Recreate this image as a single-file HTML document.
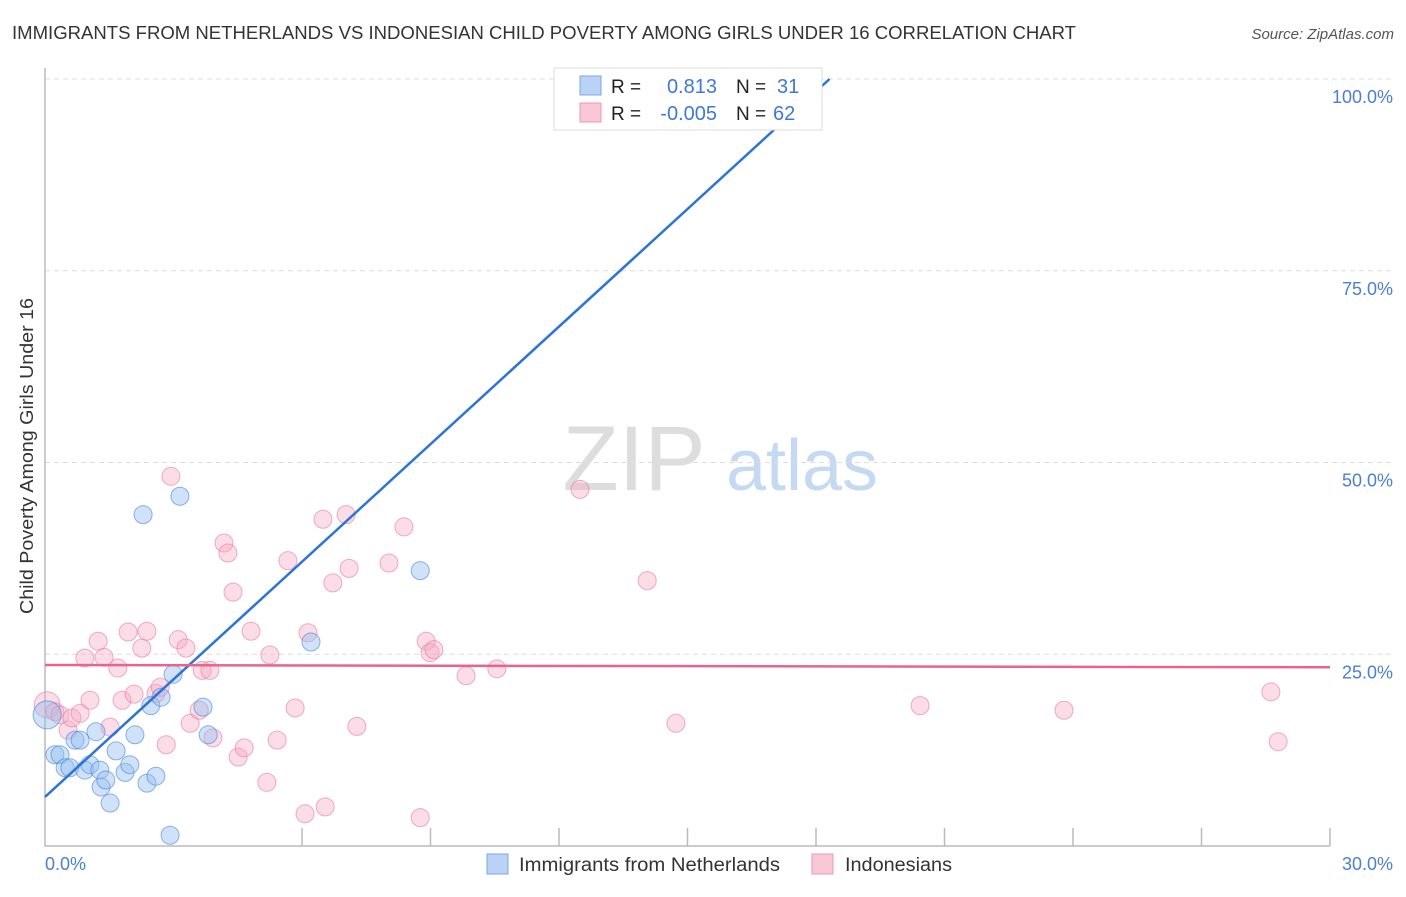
<!DOCTYPE html>
<html><head><meta charset="utf-8"><style>
body{margin:0;background:#fff;font-family:"Liberation Sans",sans-serif}
svg text{font-family:"Liberation Sans",sans-serif}
</style></head><body>
<svg id="c" width="1406" height="892" xmlns="http://www.w3.org/2000/svg">
<text x="12" y="39" font-size="18" fill="#333" textLength="1064" lengthAdjust="spacingAndGlyphs">IMMIGRANTS FROM NETHERLANDS VS INDONESIAN CHILD POVERTY AMONG GIRLS UNDER 16 CORRELATION CHART</text>
<text x="1394" y="39" font-size="15" fill="#555" font-style="italic" text-anchor="end">Source: ZipAtlas.com</text>
<text transform="translate(33,456) rotate(-90)" font-size="18" fill="#333" text-anchor="middle" textLength="316" lengthAdjust="spacingAndGlyphs">Child Poverty Among Girls Under 16</text>
<g>
<text x="634" y="490" font-size="92" fill="#ddd" font-family="Liberation Serif,serif" text-anchor="middle">ZIP</text>
<text x="802" y="490" font-size="72" fill="#c6d9f3" text-anchor="middle">atlas</text>
</g>
<g id="grid"></g><g id="pts"></g><g id="lines"></g>
<g>
<rect x="554" y="68" width="268" height="62" fill="#fff" stroke="#ddd"/>
<rect x="580" y="76" width="21" height="19" fill="#b9d2f5" stroke="#7ea7e3"/>
<rect x="580" y="103" width="21" height="19" fill="#f9c7d6" stroke="#ec9ab2"/>
<text x="611" y="93" font-size="19" fill="#222">R =</text><text x="717" y="93" font-size="20" fill="#3d79d8" text-anchor="end">0.813</text>
<text x="736" y="93" font-size="19" fill="#222">N =</text><text x="777" y="93" font-size="20" fill="#3d79d8">31</text>
<text x="611" y="120" font-size="19" fill="#222">R =</text><text x="717" y="120" font-size="20" fill="#3d79d8" text-anchor="end">-0.005</text>
<text x="736" y="120" font-size="19" fill="#222">N =</text><text x="773" y="120" font-size="20" fill="#3d79d8">62</text>
</g>
<g>
<rect x="487" y="854" width="21" height="20" fill="#b9d2f5" stroke="#7ea7e3"/>
<text x="519" y="871" font-size="19" fill="#333" textLength="261" lengthAdjust="spacingAndGlyphs">Immigrants from Netherlands</text>
<rect x="812" y="854" width="21" height="20" fill="#f9c7d6" stroke="#ec9ab2"/>
<text x="845" y="871" font-size="19" fill="#333" textLength="107" lengthAdjust="spacingAndGlyphs">Indonesians</text>
</g>
</svg>
<script>
const blueX=[0.05,0.23,0.35,0.47,0.58,0.70,0.82,0.93,1.05,1.19,1.28,1.31,1.42,1.52,1.66,1.87,1.98,2.10,2.29,2.38,2.47,2.59,2.71,2.92,2.99,3.15,3.69,3.81,6.21,8.76,15.01];
const blueY=[17.1,11.9,11.9,10.2,10.2,13.8,13.8,9.9,10.6,14.9,9.9,7.7,8.6,5.6,12.4,9.6,10.6,14.5,43.2,8.2,18.3,9.1,19.4,1.4,22.4,45.6,18.1,14.5,26.6,35.9,100];
const pinkX=[0.05,0.23,0.35,0.54,0.63,0.82,0.93,1.05,1.24,1.38,1.52,1.70,1.80,1.94,2.08,2.26,2.38,2.59,2.69,2.83,2.94,3.11,3.29,3.39,3.60,3.67,3.85,3.92,4.18,4.27,4.39,4.51,4.65,4.81,5.18,5.25,5.42,5.67,5.84,6.07,6.14,6.49,6.54,6.72,7.10,7.03,7.28,8.03,8.38,8.76,8.90,8.99,9.08,9.83,10.55,12.49,14.06,14.73,20.43,23.79,28.62,28.79];
const pinkY=[18.4,17.5,17.1,15.1,16.7,17.3,24.5,19.0,26.7,24.6,15.5,23.2,19.0,27.9,19.8,25.8,28.0,19.9,20.7,13.2,48.2,26.9,25.8,16.0,17.7,22.9,22.9,14.1,39.5,38.2,33.1,11.6,12.8,28.0,8.3,24.9,13.8,37.2,18.0,4.2,27.8,42.6,5.1,34.3,36.2,43.2,15.6,36.9,41.6,3.7,26.7,25.2,25.6,22.2,23.1,46.5,34.6,16.0,18.3,17.7,20.1,13.6];
const yTicks=[25,50,75,100];
const yTickLabels=["25.0%","50.0%","75.0%","100.0%"];
const xTicks=[6,9,12,15,18,21,24,27,30];
const blueFit=[6.4,5.11], pinkFit=[23.6,-0.01];
const NS="http://www.w3.org/2000/svg";
const X=v=>45+v*1285/30, Y=v=>846-v*7.67;
function mk(p,t,a){const e=document.createElementNS(NS,t);for(const k in a)e.setAttribute(k,a[k]);p.appendChild(e);return e;}
const svg=document.getElementById('c'),g=document.getElementById('grid'),P=document.getElementById('pts'),L=document.getElementById('lines');
yTicks.forEach((t,i)=>{
 const l=mk(g,'line',{x1:45,x2:1394,y1:Y(t),y2:Y(t),stroke:'#ddd','stroke-dasharray':'5,4'});
 
 
 const tx=mk(g,'text',{x:1393,y:Y(t)+24,'font-size':18,fill:'#4a7fd6','text-anchor':'end'});tx.textContent=yTickLabels[i];
 
 
});
const ax=mk(g,'path',{d:'M45,68V846H1330',fill:'none',stroke:'#bbb','stroke-width':1.5});


xTicks.forEach(t=>{const l=mk(g,'line',{x1:X(t),x2:X(t),y1:828,y2:846,stroke:'#bbb','stroke-width':1.5});
 
 });
const x0=mk(g,'text',{x:45,y:870,'font-size':18,fill:'#4a7fd6'});x0.textContent='0.0%';


const x1=mk(g,'text',{x:1393,y:870,'font-size':18,fill:'#4a7fd6','text-anchor':'end'});x1.textContent='30.0%';


pinkX.forEach((x,i)=>{const c=mk(P,'circle',{cx:X(x),cy:Y(pinkY[i]),r:i==0?13:9,fill:'rgba(246,170,195,0.4)',stroke:'rgba(232,120,155,0.6)'});
 
 });
blueX.forEach((x,i)=>{const c=mk(P,'circle',{cx:X(x),cy:Y(blueY[i]),r:i==0?14:9,fill:'rgba(150,190,240,0.45)',stroke:'rgba(70,130,220,0.6)'});
 
 });
const bxEnd=(100-blueFit[0])/blueFit[1];
const bl=mk(L,'line',{x1:X(0),y1:Y(blueFit[0]),x2:X(bxEnd),y2:Y(100),stroke:'#2d74d8','stroke-width':2.5});


const pl=mk(L,'line',{x1:X(0),y1:Y(pinkFit[0]),x2:X(30),y2:Y(pinkFit[0]+pinkFit[1]*30),stroke:'#e8648e','stroke-width':2.5});


</script>
</body></html>
